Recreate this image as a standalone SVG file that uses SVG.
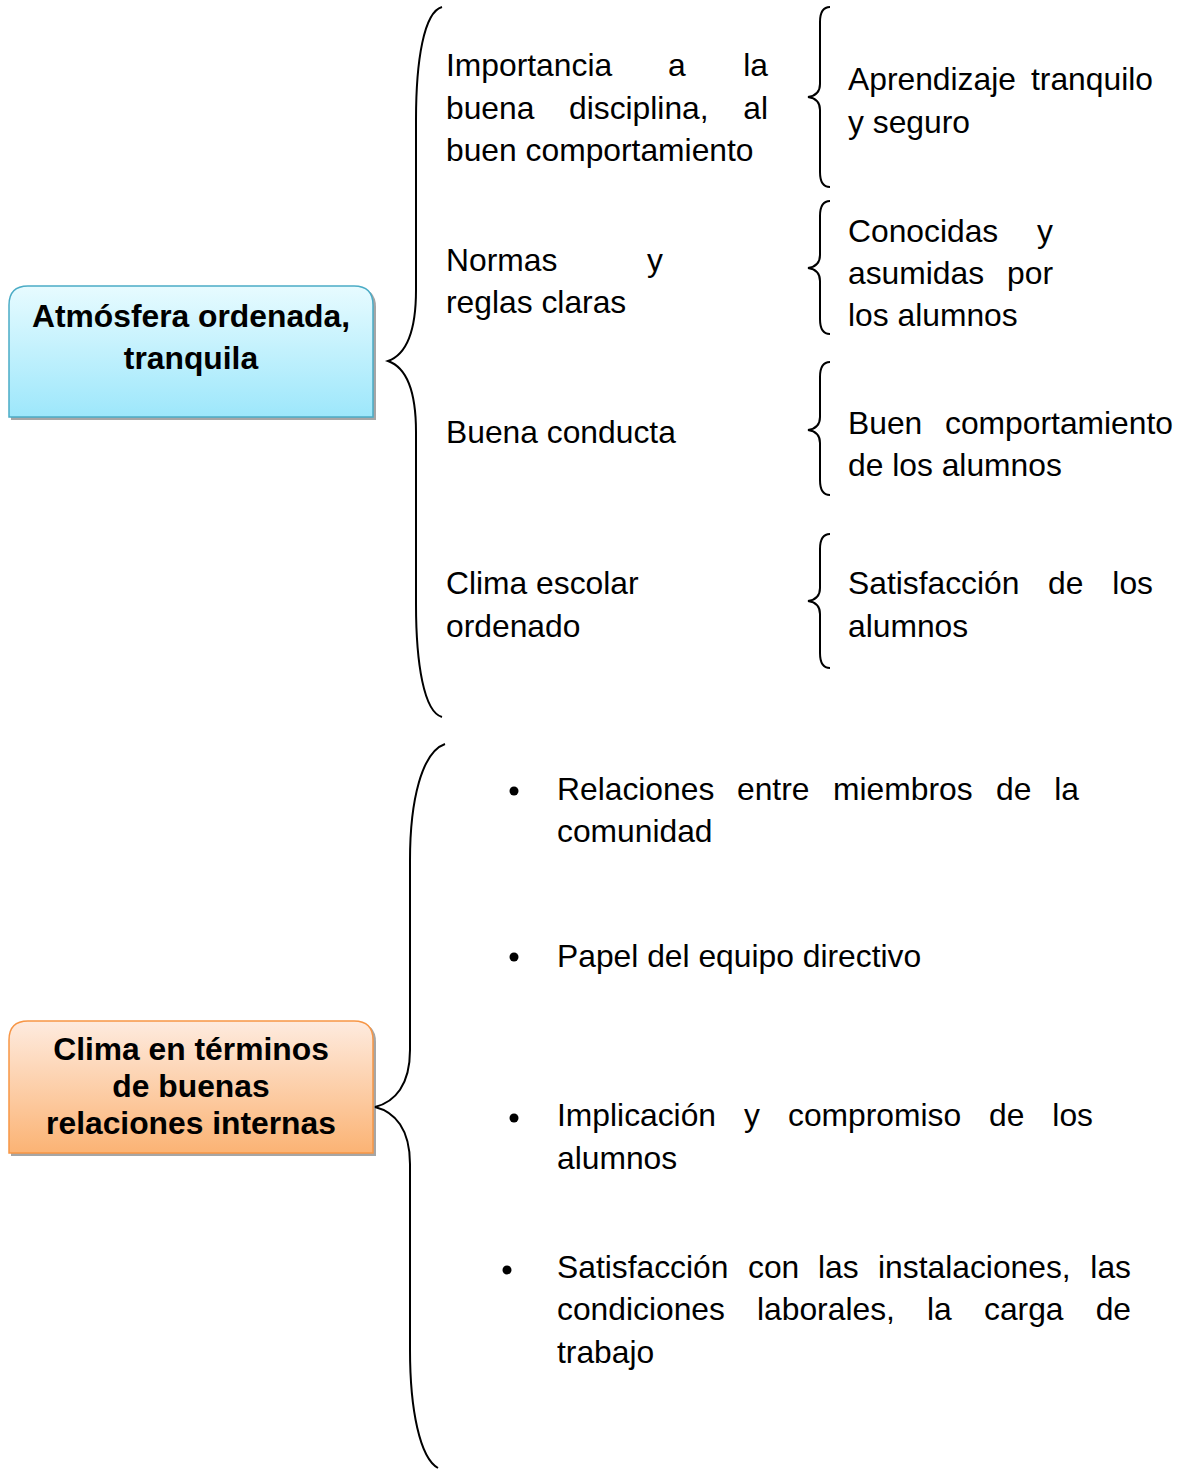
<svg xmlns="http://www.w3.org/2000/svg" width="1194" height="1470" viewBox="0 0 1194 1470">
<defs>
<linearGradient id="gBlue" x1="0" y1="0" x2="0" y2="1">
<stop offset="0" stop-color="#e7fbff"/>
<stop offset="1" stop-color="#9de7fb"/>
</linearGradient>
<linearGradient id="gOrange" x1="0" y1="0" x2="0" y2="1">
<stop offset="0" stop-color="#feebdf"/>
<stop offset="1" stop-color="#fbb374"/>
</linearGradient>
<style>
.t{font-family:"Liberation Sans",Arial,sans-serif;font-size:31.8px;fill:#000}
.b{font-family:"Liberation Sans",Arial,sans-serif;font-size:31.8px;font-weight:bold;fill:#000;text-anchor:middle}
.br{fill:none;stroke:#000;stroke-width:2}
.sh{fill:#a6a6a6}
</style>
</defs>

<g id="node-atmosfera">
<path class="sh" d="M11,307 Q11,288 30,288 L356,288 Q376,288 376,307 L376,420 L11,420 Z"/>
<path d="M9,305 Q9,286 28,286 L354,286 Q373,286 373,305 L373,417 L9,417 Z" fill="url(#gBlue)" stroke="#4bacc6" stroke-width="1.5"/>
<text class="b" x="191" y="327">Atmósfera ordenada,</text>
<text class="b" x="191" y="369">tranquila</text>
</g>

<g id="node-clima">
<path class="sh" d="M11,1042 Q11,1023 30,1023 L356,1023 Q376,1023 376,1042 L376,1156 L11,1156 Z"/>
<path d="M9,1040 Q9,1021 28,1021 L354,1021 Q373,1021 373,1040 L373,1153 L9,1153 Z" fill="url(#gOrange)" stroke="#f79646" stroke-width="1.5"/>
<text class="b" x="191" y="1060">Clima en términos</text>
<text class="b" x="191" y="1097">de buenas</text>
<text class="b" x="191" y="1134">relaciones internas</text>
</g>

<g id="connectors">
<path class="br" d="M442,7 C424,12 416,60 416,120 L416,290 C416,335 405,355 388,361 C405,367 416,387 416,432 L416,604 C416,664 424,712 442,717"/>
<path class="br" d="M445,744 C422,752 410,800 410,860 L410,1050 C410,1085 395,1102 375,1107 C395,1112 410,1129 410,1164 L410,1350 C410,1410 420,1458 438,1468"/>
<path class="br" d="M830,7 C823,7 820,12 820,22 L820,84 C820,92 815,96 808,97 C815,98 820,102 820,110 L820,172 C820,182 823,187 830,187"/>
<path class="br" d="M830,201 C823,201 820,206 820,216 L820,255 C820,263 815,267 808,268 C815,269 820,273 820,281 L820,319 C820,329 823,334 830,334"/>
<path class="br" d="M830,362 C823,362 820,367 820,377 L820,417 C820,425 815,429 808,430 C815,431 820,435 820,443 L820,480 C820,490 823,495 830,495"/>
<path class="br" d="M830,534 C823,534 820,539 820,549 L820,588 C820,596 815,600 808,601 C815,602 820,606 820,614 L820,653 C820,663 823,668 830,668"/>
</g>

<g id="node-importancia">
<text class="t" y="76"><tspan x="446">Importancia</tspan><tspan x="668">a</tspan><tspan x="768" text-anchor="end">la</tspan></text>
<text class="t" y="119"><tspan x="446">buena</tspan><tspan x="569">disciplina,</tspan><tspan x="768" text-anchor="end">al</tspan></text>
<text class="t" x="446" y="161">buen comportamiento</text>
</g>
<g id="node-aprendizaje">
<text class="t" y="90"><tspan x="848">Aprendizaje</tspan><tspan x="1153" text-anchor="end">tranquilo</tspan></text>
<text class="t" x="848" y="133">y seguro</text>
</g>

<g id="node-normas">
<text class="t" y="271"><tspan x="446">Normas</tspan><tspan x="663" text-anchor="end">y</tspan></text>
<text class="t" x="446" y="313">reglas claras</text>
</g>
<g id="node-conocidas">
<text class="t" y="242"><tspan x="848">Conocidas</tspan><tspan x="1053" text-anchor="end">y</tspan></text>
<text class="t" y="284"><tspan x="848">asumidas</tspan><tspan x="1053" text-anchor="end">por</tspan></text>
<text class="t" x="848" y="326">los alumnos</text>
</g>

<g id="node-buena-conducta">
<text class="t" x="446" y="443">Buena conducta</text>
</g>
<g id="node-buen-comportamiento">
<text class="t" y="434"><tspan x="848">Buen</tspan><tspan x="1173" text-anchor="end">comportamiento</tspan></text>
<text class="t" x="848" y="476">de los alumnos</text>
</g>

<g id="node-clima-escolar">
<text class="t" x="446" y="594">Clima escolar</text>
<text class="t" x="446" y="637">ordenado</text>
</g>
<g id="node-satisfaccion-alumnos">
<text class="t" y="594"><tspan x="848">Satisfacción</tspan><tspan x="1048">de</tspan><tspan x="1153" text-anchor="end">los</tspan></text>
<text class="t" x="848" y="637">alumnos</text>
</g>

<g id="node-relaciones">
<circle cx="514" cy="791" r="4.5"/>
<text class="t" y="800"><tspan x="557">Relaciones</tspan><tspan x="737">entre</tspan><tspan x="833">miembros</tspan><tspan x="996">de</tspan><tspan x="1079" text-anchor="end">la</tspan></text>
<text class="t" x="557" y="842">comunidad</text>
</g>
<g id="node-papel">
<circle cx="514" cy="957" r="4.5"/>
<text class="t" x="557" y="967">Papel del equipo directivo</text>
</g>
<g id="node-implicacion">
<circle cx="514" cy="1118" r="4.5"/>
<text class="t" y="1126"><tspan x="557">Implicación</tspan><tspan x="744">y</tspan><tspan x="788">compromiso</tspan><tspan x="989">de</tspan><tspan x="1093" text-anchor="end">los</tspan></text>
<text class="t" x="557" y="1169">alumnos</text>
</g>
<g id="node-satisfaccion-instalaciones">
<circle cx="507" cy="1270" r="4.5"/>
<text class="t" y="1278"><tspan x="557">Satisfacción</tspan><tspan x="748">con</tspan><tspan x="818">las</tspan><tspan x="878">instalaciones,</tspan><tspan x="1131" text-anchor="end">las</tspan></text>
<text class="t" y="1320"><tspan x="557">condiciones</tspan><tspan x="757">laborales,</tspan><tspan x="927">la</tspan><tspan x="984">carga</tspan><tspan x="1131" text-anchor="end">de</tspan></text>
<text class="t" x="557" y="1363">trabajo</text>
</g>
</svg>
